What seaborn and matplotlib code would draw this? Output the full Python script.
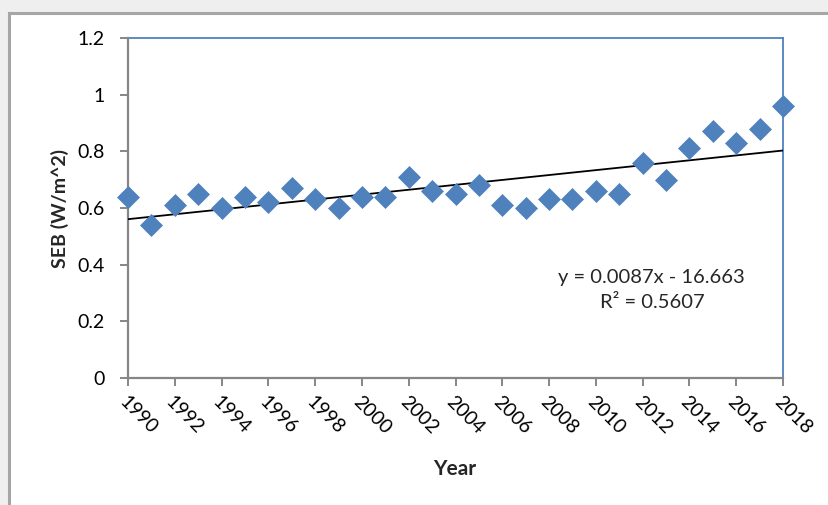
import numpy as np
import pandas as pd
import matplotlib
matplotlib.use("Agg")
import matplotlib.pyplot as plt
from matplotlib.patches import Rectangle
from matplotlib.transforms import ScaledTranslation
import seaborn as sns

# Annual surface energy balance values
years = list(range(1990, 2019))
seb = [0.64, 0.54, 0.61, 0.65, 0.60, 0.64, 0.62, 0.67, 0.63, 0.60,
       0.64, 0.64, 0.71, 0.66, 0.65, 0.68, 0.61, 0.60, 0.63, 0.63,
       0.66, 0.65, 0.76, 0.70, 0.81, 0.87, 0.83, 0.88, 0.96]
x_ticks = list(range(1990, 2019, 2))
y_ticks = [0, 0.2, 0.4, 0.6, 0.8, 1.0, 1.2]
y_tick_labels = ["0", "0.2", "0.4", "0.6", "0.8", "1", "1.2"]
equation_text = "y = 0.0087x - 16.663"
r2_text = "R² = 0.5607"

df = pd.DataFrame({"Year": years, "SEB": seb})

sns.set_theme(style="white")
plt.rcParams["font.family"] = ["Lato", "DejaVu Sans"]

W, H = 829, 505
fig = plt.figure(figsize=(W / 100, H / 100), dpi=100, facecolor="#efefef")

# white chart card with a grey frame, running off the right and bottom edges
card = Rectangle((9 / W, -0.1), 1.2, 1.1 - 13 / H, transform=fig.transFigure,
                 facecolor="white", edgecolor="#a6a6a6", linewidth=2.2,
                 zorder=-5)
fig.patches.append(card)

ax = fig.add_axes([128 / W, 1 - 378 / H, (783 - 128) / W, (378 - 38) / H])
ax.set_zorder(1)
ax.set_facecolor("white")

blue = "#4f81bd"
sns.scatterplot(data=df, x="Year", y="SEB", ax=ax, marker="D", s=125,
                color=blue, edgecolor=blue, linewidth=0.5, zorder=4,
                clip_on=False)

# linear trend line
coef = np.polyfit(df["Year"], df["SEB"], 1)
xs = np.array([years[0], years[-1]])
ax.plot(xs, np.polyval(coef, xs), color="black", linewidth=1.3, zorder=3)

ax.set_xlim(1990, 2018)
ax.set_ylim(0, 1.2)
ax.set_xticks(x_ticks)
ax.set_xticklabels([str(t) for t in x_ticks], rotation=-45, ha="left",
                   va="top", rotation_mode="anchor", fontsize=14)
shift = ScaledTranslation(3 / 100, 0, fig.dpi_scale_trans)
for lbl in ax.get_xticklabels():
    lbl.set_transform(lbl.get_transform() + shift)
ax.set_yticks(y_ticks)
ax.set_yticklabels(y_tick_labels, fontsize=14)

for side in ("left", "bottom"):
    ax.spines[side].set_color("#868686")
    ax.spines[side].set_linewidth(1.6)
for side in ("top", "right"):
    ax.spines[side].set_color(blue)
    ax.spines[side].set_linewidth(1.3)
    ax.spines[side].set_zorder(2)

ax.tick_params(axis="both", direction="out", length=6, width=1.4,
               color="#868686", labelcolor="black")
ax.tick_params(axis="x", pad=5, bottom=True)
ax.tick_params(axis="y", pad=11, left=True)

ax.set_xlabel("Year", fontsize=15, fontweight="bold")
ax.set_ylabel("SEB (W/m^2)", fontsize=14, fontweight="bold")
ax.xaxis.set_label_coords((455 - 128) / (783 - 128), -(459 - 378) / (378 - 38))
ax.yaxis.set_label_coords(-(128 - 69) / (783 - 128), 0.5)

fig.text(651 / W, 1 - 278 / H, equation_text, ha="center", va="center",
         fontsize=14.5, zorder=5)
fig.text(652 / W, 1 - 302 / H, r2_text, ha="center", va="center",
         fontsize=14.5, zorder=5)

fig.savefig("out.png", dpi=100, facecolor=fig.get_facecolor())
